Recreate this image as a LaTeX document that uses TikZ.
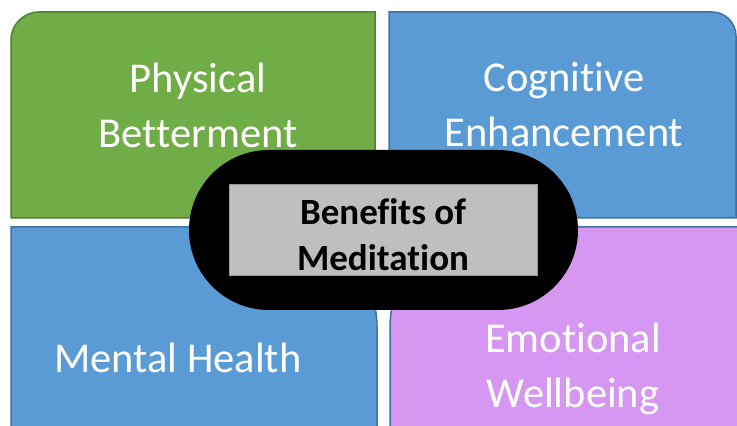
\documentclass[tikz,border=0pt]{standalone}
\usepackage{fontspec}
\setmainfont{Carlito}[RawFeature=-liga]
\usetikzlibrary{shapes.misc}
\definecolor{physgreen}{HTML}{70AD47}
\definecolor{physedge}{HTML}{507E32}
\definecolor{cogblue}{HTML}{5B9BD5}
\definecolor{cogedge}{HTML}{41719C}
\definecolor{emolilac}{HTML}{D597F1}
\definecolor{hubgrey}{HTML}{BFBFBF}
\begin{document}
\begin{tikzpicture}[x=1pt,y=1pt,line width=1.5pt,
  label/.style={text=white,align=center,font=\fontsize{42.5}{55}\selectfont},
  hub/.style={rounded rectangle,fill=black,minimum width=389pt,minimum height=160pt,inner sep=0pt},
  banner/.style={rectangle,draw=gray!80,line width=1pt,fill=hubgrey,minimum width=308pt,minimum height=91pt},
  title/.style={inner sep=0pt,align=center,font=\fontsize{37}{46}\selectfont\bfseries}]
\useasboundingbox (0,0) rectangle (737,426);
\clip (0,0) rectangle (737,426);
% quarter panels
\draw [fill=physgreen,draw=physedge] (11,208) -- (11,386) arc[start angle=180,end angle=90,radius=28] -- (375,414) -- (375,208) -- cycle;
\draw [fill=cogblue,draw=cogedge] (389,208) -- (389,414) -- (712,414) arc[start angle=90,end angle=0,radius=24] -- (736,208) -- cycle;
\draw [fill=cogblue,draw=cogedge] (11,-20) -- (11,199) -- (277,199) arc[start angle=90,end angle=0,radius=100] -- (377,-20) -- cycle;
\draw [fill=emolilac,draw=cogedge] (390,-20) -- (390,99) arc[start angle=180,end angle=90,radius=100] -- (760,199) -- (760,-20) -- cycle;
\node [label] (physical) at (198,321) {Physical\\Betterment};
\node [label] (cognitive) at (564,321) {Cognitive\\Enhancement};
\node [label] (mental) at (178,68) {Mental Health};
\node [label] (emotional) at (573,57) {Emotional\\Wellbeing};
% centre
\node [hub] (hub) at (383.5,196) {};
\node [banner] (banner) at (383,195.5) {};
\node [title,yshift=-4pt] (benefits) at (banner.center) {Benefits of\\Meditation};
\end{tikzpicture}
\end{document}
